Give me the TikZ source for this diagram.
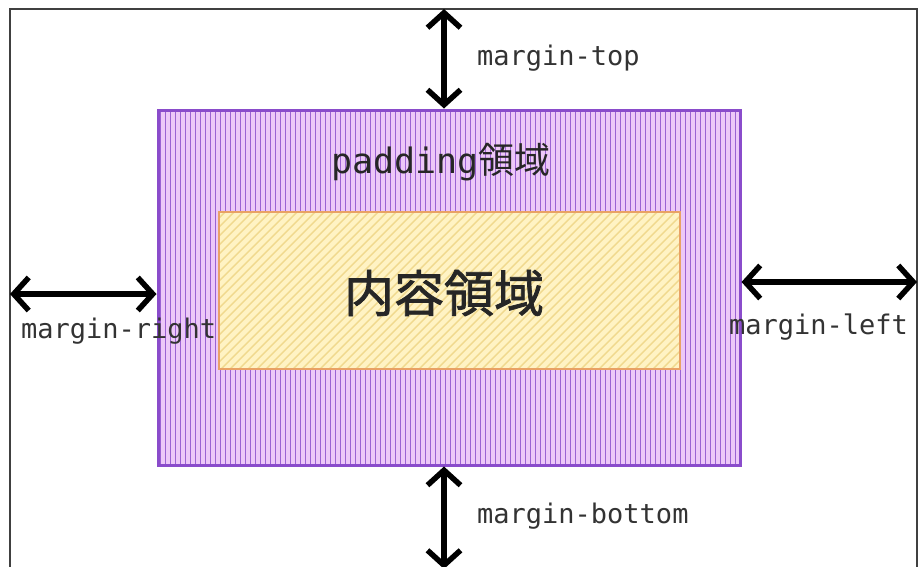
\documentclass[tikz,border=0pt]{standalone}
\usepackage{fontspec}
\setmonofont{DejaVu Sans Mono}
\newfontfamily\cjk{Noto Sans CJK JP}
\newfontfamily\cjkheavy{Noto Sans CJK JP}[FakeBold=1.5]
\usepackage{xcolor}
\definecolor{padFill}{HTML}{EDC8F8}
\definecolor{padStripe}{HTML}{9B62D3}
\definecolor{padEdge}{HTML}{8A4CCB}
\definecolor{boxFill}{HTML}{FFF3C4}
\definecolor{boxHatch}{HTML}{F0D98E}
\definecolor{boxEdge}{HTML}{E9A265}
\definecolor{labelGray}{HTML}{333333}
\usetikzlibrary{arrows.meta}
\tikzset{
    marginArrow/.style={draw=black, line width=5.5pt,
        {Straight Barb[length=15pt,width=33pt]}-{Straight Barb[length=15pt,width=33pt]}},
    marginLabel/.style={font=\ttfamily\fontsize{27}{31}\selectfont, text=labelGray, inner sep=0pt},
    padBox/.style={draw=padEdge, line width=3pt, fill=padFill, inner sep=0pt,
        minimum width=582pt, minimum height=355pt,
        path picture={
            \foreach \s in {2,7,...,590}
              \draw[padStripe, line width=1pt]
                ([xshift=\s pt]path picture bounding box.north west) --
                ([xshift=\s pt]path picture bounding box.south west);
        }},
    contentBox/.style={draw=boxEdge, line width=1.8pt, fill=boxFill, inner sep=0pt,
        minimum width=461pt, minimum height=157pt,
        path picture={
            \foreach \s in {-160,-151,...,470}
              \draw[boxHatch, line width=1.4pt]
                ([xshift=\s pt]path picture bounding box.south west) --
                ([xshift=\s pt+157pt]path picture bounding box.north west);
        }}
}

\begin{document}
\begin{tikzpicture}[x=1pt, y=-1pt]
  \useasboundingbox (0,0) rectangle (918,566);

  % outer frame (open at the bottom)
  \draw[line width=1.6pt, draw=black!75] (10,570) -- (10,9) -- (917,9) -- (917,570);

  % padding and content areas
  \node[padBox] (pad) at (449,287.5) {};
  \node[contentBox] (content) at (449.5,290.5) {};
  \node[text=black!85, inner sep=0pt] (padLabel) at (441,162)
    {{\ttfamily\fontsize{35}{40}\selectfont padding}{\cjk\fontsize{36}{40}\selectfont 領域}};
  \node[text=black!85, inner sep=0pt] (contentLabel) at (444,293)
    {\cjkheavy\fontsize{50}{56}\selectfont 内容領域};

  % arrow ends on the frame
  \coordinate (topEnd) at (444,9);
  \coordinate (bottomEnd) at (444,569);
  \coordinate (leftEnd) at (10,294);
  \coordinate (rightEnd) at (917,282);

  % margin arrows
  \draw[marginArrow] (topEnd) -- (topEnd |- pad.north);
  \draw[marginArrow] (bottomEnd |- pad.south) -- (bottomEnd);
  \draw[marginArrow] (leftEnd) -- (leftEnd -| pad.west);
  \draw[marginArrow] (rightEnd -| pad.east) -- (rightEnd);

  % margin labels
  \node[marginLabel, anchor=west] (topLabel) at (477,58) {margin-top};
  \node[marginLabel, anchor=west] (bottomLabel) at (477,516) {margin-bottom};
  \node[marginLabel, anchor=west] (rightLabel) at (21,331) {margin-right};
  \node[marginLabel, anchor=west] (leftLabel) at (729,327) {margin-left};
\end{tikzpicture}
\end{document}
